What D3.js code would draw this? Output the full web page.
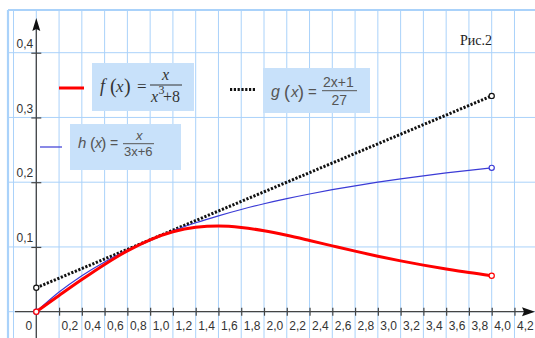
<!DOCTYPE html>
<html>
<head>
<meta charset="utf-8">
<script src="https://cdn.jsdelivr.net/npm/d3@7"></script>
<style>
  html, body { margin: 0; padding: 0; background: #fff; }
  svg { display: block; }
</style>
</head>
<body>
<svg id="svg" width="535" height="338"></svg>
<script>
// values
var xs = [0, 0.2, 0.4, 0.6, 0.8, 1.0, 1.2, 1.4, 1.6, 1.8, 2.0, 2.2, 2.4, 2.6, 2.8, 3.0, 3.2, 3.4, 3.6, 3.8, 4.0];
var fVals = [0, 0.025, 0.0496, 0.073, 0.094, 0.1111, 0.1234, 0.1303, 0.1323, 0.1301, 0.125, 0.118, 0.11, 0.1017, 0.0935, 0.0857, 0.0785, 0.0719, 0.0659, 0.0604, 0.0556];
var hVals = [0, 0.0303, 0.0556, 0.0769, 0.0952, 0.1111, 0.125, 0.1373, 0.1481, 0.1579, 0.1667, 0.1746, 0.1818, 0.1884, 0.1944, 0.2, 0.2051, 0.2099, 0.2143, 0.2184, 0.2222];
var gX = [0, 4.0];
var gVals = [0.037, 0.3333];

var xTicks = [0.2, 0.4, 0.6, 0.8, 1.0, 1.2, 1.4, 1.6, 1.8, 2.0, 2.2, 2.4, 2.6, 2.8, 3.0, 3.2, 3.4, 3.6, 3.8, 4.0, 4.2];
var yTicks = [0.1, 0.2, 0.3, 0.4];
var xGrid = [-0.2, 0, 0.2, 0.4, 0.6, 0.8, 1.0, 1.2, 1.4, 1.6, 1.8, 2.0, 2.2, 2.4, 2.6, 2.8, 3.0, 3.2, 3.4, 3.6, 3.8, 4.0, 4.2];
var yGrid = [0, 0.1, 0.2, 0.3, 0.4];

var svg = d3.select('#svg');
var width = 535, height = 338;

var x = d3.scaleLinear().domain([0, 4]).range([36.3, 491.7]);
var y = d3.scaleLinear().domain([0, 0.4]).range([311.7, 52.7]);

var gridColor = '#aad2fa';
var axisColor = '#444';
var fmt = function(d) { return d3.format('.1f')(d).replace('.', ','); };

// grid
var grid = svg.append('g');
grid.selectAll('.vg').data(xGrid).enter().append('line')
    .attr('x1', d => x(d)).attr('x2', d => x(d))
    .attr('y1', 10).attr('y2', height)
    .style('stroke', gridColor).style('stroke-width', 1);
grid.selectAll('.hg').data(yGrid).enter().append('line')
    .attr('x1', 8).attr('x2', width)
    .attr('y1', d => y(d)).attr('y2', d => y(d))
    .style('stroke', gridColor).style('stroke-width', 1);
// frame
grid.append('line').attr('x1', 8).attr('x2', width).attr('y1', 10).attr('y2', 10)
    .style('stroke', gridColor).style('stroke-width', 2.2);
grid.append('line').attr('x1', 8).attr('x2', 8).attr('y1', 10).attr('y2', height)
    .style('stroke', gridColor).style('stroke-width', 2.2);

// legend boxes
var boxFill = '#c8e1fa';
svg.append('rect').attr('x', 92).attr('y', 63).attr('width', 102).attr('height', 48).style('fill', boxFill);
svg.append('rect').attr('x', 263).attr('y', 68).attr('width', 107).attr('height', 45).style('fill', boxFill);
svg.append('rect').attr('x', 70).attr('y', 124).attr('width', 111).attr('height', 46).style('fill', boxFill);

// axes
var xAxis = d3.axisBottom(x).tickValues(xTicks).tickFormat(fmt).tickSize(4);
var ax = svg.append('g').attr('transform', 'translate(0,' + y(0) + ')').call(xAxis);
ax.select('.domain').remove();
ax.selectAll('.tick line').attr('y1', -4).attr('y2', 4).style('stroke', axisColor).style('stroke-width', 1.2);
ax.selectAll('.tick text').attr('text-anchor', 'start').attr('x', 2).attr('y', 10)
    .style('font-family', 'Liberation Sans, Arial, sans-serif').style('font-size', '12px').style('fill', '#333');

var yAxis = d3.axisLeft(y).tickValues(yTicks).tickFormat(fmt).tickSize(5);
var ay = svg.append('g').attr('transform', 'translate(' + x(0) + ',0)').call(yAxis);
ay.select('.domain').remove();
ay.selectAll('.tick line').attr('x1', -5).attr('x2', 5).style('stroke', axisColor).style('stroke-width', 1.2);
ay.selectAll('.tick text').attr('text-anchor', 'end').attr('x', -3).attr('dy', '-0.45em')
    .style('font-family', 'Liberation Sans, Arial, sans-serif').style('font-size', '12px').style('fill', '#333');

svg.append('line').attr('x1', 15).attr('x2', 526).attr('y1', y(0)).attr('y2', y(0))
    .style('stroke', axisColor).style('stroke-width', 1.3);
svg.append('path').attr('d', 'M535,' + y(0) + 'L522,' + (y(0) - 4.5) + 'L524,' + y(0) + 'L522,' + (y(0) + 4.5) + 'Z')
    .style('fill', '#111');
svg.append('line').attr('x1', x(0)).attr('x2', x(0)).attr('y1', 26).attr('y2', height)
    .style('stroke', axisColor).style('stroke-width', 1.3);
svg.append('path').attr('d', 'M' + x(0) + ',18L' + (x(0) - 4) + ',31L' + x(0) + ',29L' + (x(0) + 4) + ',31Z')
    .style('fill', '#111');
svg.append('text').attr('x', x(0) - 4).attr('y', y(0) + 18).attr('text-anchor', 'end')
    .style('font-family', 'Liberation Sans, Arial, sans-serif').style('font-size', '12px').style('fill', '#333')
    .text('0');

// curves
var line = d3.line().x(d => x(d[0])).y(d => y(d[1])).curve(d3.curveMonotoneX);
var fData = xs.map((d, i) => [d, fVals[i]]);
var hData = xs.map((d, i) => [d, hVals[i]]);
var gData = gX.map((d, i) => [d, gVals[i]]);

svg.append('path').attr('d', line(gData)).style('fill', 'none')
    .style('stroke', '#111').style('stroke-width', 3).style('stroke-dasharray', '2.2,1.6');
svg.append('path').attr('d', line(hData)).style('fill', 'none')
    .style('stroke', '#3b3bd6').style('stroke-width', 1.2);
svg.append('path').attr('d', line(fData)).style('fill', 'none')
    .style('stroke', '#f00').style('stroke-width', 3);

function ends(data, color) {
    svg.selectAll(null).data([data[0], data[data.length - 1]]).enter().append('circle')
        .attr('cx', d => x(d[0])).attr('cy', d => y(d[1])).attr('r', 2.6)
        .style('fill', '#fff').style('stroke', color).style('stroke-width', 1.2);
}
ends(gData, '#111');
ends(hData, '#3b3bd6');
ends(fData, '#f00');

// legend samples
svg.append('line').attr('x1', 59).attr('x2', 84).attr('y1', 88).attr('y2', 88)
    .style('stroke', '#f00').style('stroke-width', 3);
svg.append('line').attr('x1', 230).attr('x2', 256).attr('y1', 89.5).attr('y2', 89.5)
    .style('stroke', '#111').style('stroke-width', 3).style('stroke-dasharray', '2.2,1.6');
svg.append('line').attr('x1', 40).attr('x2', 62).attr('y1', 147).attr('y2', 147)
    .style('stroke', '#3b3bd6').style('stroke-width', 1.2);

// formulas
function txt(px, py, s, font, size, italic, color) {
    return svg.append('text').attr('x', px).attr('y', py)
        .style('font-family', font).style('font-size', size + 'px')
        .style('font-style', italic ? 'italic' : 'normal')
        .style('fill', color).text(s);
}
var serif = '"Liberation Serif", "Times New Roman", serif';
var sans = '"Liberation Sans", Arial, sans-serif';

// f(x) = x / (x^3 + 8)
txt(100, 92, 'f', serif, 18, true, '#333');
txt(110, 93, '(', serif, 20, false, '#333');
txt(116, 92, 'x', serif, 17, true, '#333');
txt(124, 93, ')', serif, 20, false, '#333');
txt(137, 92, '=', serif, 17, false, '#333');
svg.append('line').attr('x1', 150).attr('x2', 182).attr('y1', 85).attr('y2', 85).style('stroke', '#333').style('stroke-width', 1);
txt(162, 80, 'x', serif, 16, true, '#333');
txt(151, 102, 'x', serif, 16, true, '#333');
txt(158.5, 94, '3', serif, 12, false, '#333');
txt(163, 102, '+8', serif, 16, false, '#333');

// g(x) = (2x+1)/27
txt(271, 97, 'g', sans, 16, true, '#555');
txt(284, 98, '(', sans, 18, false, '#555');
txt(291, 97, 'x', sans, 15, true, '#555');
txt(298, 98, ')', sans, 18, false, '#555');
txt(308, 97, '=', sans, 15, false, '#555');
svg.append('line').attr('x1', 322).attr('x2', 357).attr('y1', 90.7).attr('y2', 90.7).style('stroke', '#555').style('stroke-width', 1);
txt(323, 86.5, '2x+1', sans, 14, false, '#555');
txt(331.5, 105, '27', sans, 14, false, '#555');

// h(x) = x / (3x+6)
txt(78, 147.5, 'h', sans, 15, true, '#555');
txt(90, 148.5, '(', sans, 16, false, '#555');
txt(95, 147.5, 'x', sans, 14, true, '#555');
txt(101, 148.5, ')', sans, 16, false, '#555');
txt(110, 147.5, '=', sans, 14, false, '#555');
svg.append('line').attr('x1', 123).attr('x2', 154).attr('y1', 143.7).attr('y2', 143.7).style('stroke', '#555').style('stroke-width', 1);
txt(136, 139.7, 'x', sans, 13, true, '#555');
txt(124, 156, '3x+6', sans, 13, false, '#555');

// caption
txt(460, 44.5, 'Рис.2', serif, 14, false, '#222');
</script>
</body>
</html>
